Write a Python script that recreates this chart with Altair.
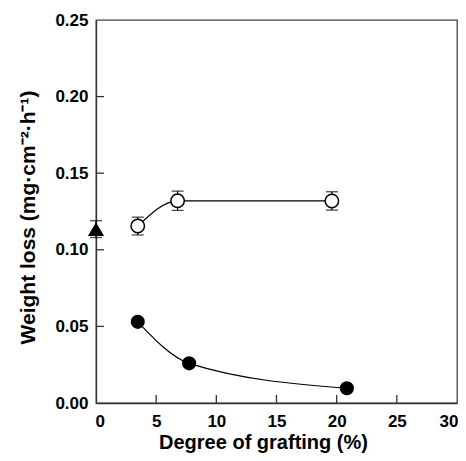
import altair as alt
import pandas as pd

# Data
open_x = [3.47, 6.78, 19.6]
open_y = [0.1155, 0.132, 0.1319]
open_err = [0.0058, 0.0063, 0.006]

filled_x = [3.47, 7.74, 20.85]
filled_y = [0.053, 0.0259, 0.0096]

tri_x = [0.0]
tri_y = [0.1135]
tri_err = [0.0055]

x_ticks = [5, 10, 15, 20, 25]
y_ticks = [0.05, 0.10, 0.15, 0.20]

W, H = 361, 383
FONT = "Liberation Sans"

df_open = pd.DataFrame({"x": open_x, "y": open_y,
                        "lo": [a - b for a, b in zip(open_y, open_err)],
                        "hi": [a + b for a, b in zip(open_y, open_err)]})
df_fill = pd.DataFrame({"x": filled_x, "y": filled_y})
df_tri = pd.DataFrame({"x": tri_x, "y": tri_y,
                       "lo": [a - b for a, b in zip(tri_y, tri_err)],
                       "hi": [a + b for a, b in zip(tri_y, tri_err)]})
df_err = pd.concat([df_open, df_tri], ignore_index=True)
df_xt = pd.DataFrame({"x": x_ticks})
df_yt = pd.DataFrame({"y": y_ticks})

xscale = alt.Scale(domain=[0, 30], nice=False, zero=False)
yscale = alt.Scale(domain=[0, 0.25], nice=False, zero=False)

xaxis = alt.Axis(values=[0, 5, 10, 15, 20, 25, 30], format="d", ticks=False,
                 labelPadding=10, labelFlush=True, labelFlushOffset=1,
                 title="Degree of grafting (%)",
                 titleX=167, titleY=45, titleBaseline="alphabetic", titleAnchor="middle")
yaxis = alt.Axis(values=[0, 0.05, 0.10, 0.15, 0.20, 0.25], format=".2f", ticks=False,
                 labelPadding=8, labelFlush=False, title="Weight loss (mg·cm⁻²·h⁻¹)",
                 titleX=-62, titleY=197, titleBaseline="alphabetic")


def X(f="x"):
    return alt.X(f"{f}:Q", scale=xscale, axis=xaxis)


def Y(f="y"):
    return alt.Y(f"{f}:Q", scale=yscale, axis=yaxis)


line_fill = alt.Chart(df_fill).mark_line(interpolate="monotone", color="black", strokeWidth=1.2).encode(
    x=X(), y=Y())
line_open = alt.Chart(df_open).mark_line(interpolate="monotone", color="black", strokeWidth=1.2).encode(
    x=X(), y=Y())

err_rule = alt.Chart(df_err).mark_rule(color="black", strokeWidth=1.2).encode(
    x=X(), y=Y("lo"), y2="hi")
err_lo = alt.Chart(df_err).mark_tick(orient="horizontal", color="black", size=12, thickness=1.3).encode(
    x=X(), y=Y("lo"))
err_hi = alt.Chart(df_err).mark_tick(orient="horizontal", color="black", size=12, thickness=1.3).encode(
    x=X(), y=Y("hi"))

pts_fill = alt.Chart(df_fill).mark_point(shape="circle", filled=True, color="black", size=200, opacity=1).encode(
    x=X(), y=Y())
pts_open = alt.Chart(df_open).mark_point(shape="circle", fill="white", stroke="black", strokeWidth=1.5,
                                         size=180, opacity=1, fillOpacity=1).encode(x=X(), y=Y())
pts_tri = alt.Chart(df_tri).mark_point(shape="triangle-up", filled=True, color="black", size=260, opacity=1).encode(
    x=X(), y=Y())

xt = alt.Chart(df_xt).mark_rule(color="#333", strokeWidth=1.3).encode(
    x=X(), y=alt.value(H), y2=alt.value(H - 8))
yt = alt.Chart(df_yt).mark_rule(color="#333", strokeWidth=1.3).encode(
    y=Y(), x=alt.value(0), x2=alt.value(8))

chart = alt.layer(line_fill, line_open, err_rule, err_lo, err_hi, xt, yt,
                  pts_fill, pts_open, pts_tri).properties(
    width=W, height=H,
    autosize=alt.AutoSizeParams(type="none"),
    padding={"left": 88, "top": 12, "right": 1, "bottom": 50},
).configure_view(stroke="#444", strokeWidth=1.3).configure_axis(
    grid=False, domainColor="#333", domainWidth=1.3,
    labelFont=FONT, labelFontWeight="bold", labelFontSize=17, labelColor="black",
    titleFont=FONT, titleFontWeight="bold", titleColor="black",
).configure_axisX(titleFontSize=20).configure_axisY(titleFontSize=21)

chart.save("out.html", embed_options={"renderer": "svg", "actions": False})
